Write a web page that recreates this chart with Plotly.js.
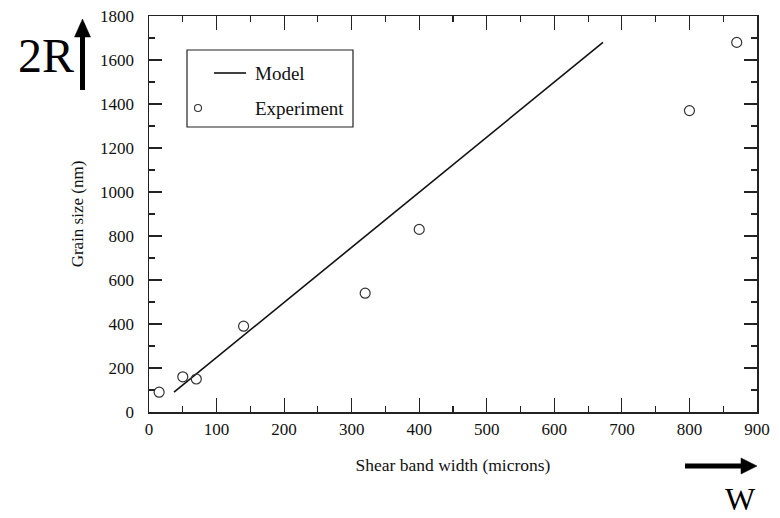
<!DOCTYPE html>
<html><head><meta charset="utf-8">
<script src="https://cdn.plot.ly/plotly-3.0.1.min.js"></script>
<style>html,body{margin:0;padding:0;background:#fff}</style>
</head><body><div id="chart" style="width:780px;height:518px"></div>
<script>
// ---- data ----
const expX = [15, 50, 70, 140, 320, 400, 800, 870];
const expY = [90, 160, 150, 390, 540, 830, 1370, 1680];
const modelX = [37, 672];
const modelY = [90, 1680];
const xTickVals = [0, 100, 200, 300, 400, 500, 600, 700, 800, 900];
const yTickVals = [0, 200, 400, 600, 800, 1000, 1200, 1400, 1600, 1800];
const seriesNames = ['Model', 'Experiment'];
const xTitle = 'Shear band width (microns)';
const yTitle = 'Grain size (nm)';
const sideLabels = ['2R', 'W'];

// ---- layout helpers (pixel -> paper) ----
const L = 149, R = 757, T = 16, B = 412;
const px = x => (x - L) / (R - L);
const py = y => (B - y) / (B - T);
const FONT = 'Liberation Serif, Times New Roman, serif';
const INK = '#222';

const traces = [
  {x: modelX, y: modelY, mode: 'lines', name: seriesNames[0],
   line: {color: '#111', width: 1.6}, showlegend: false, hoverinfo: 'skip'},
  {x: expX, y: expY, mode: 'markers', name: seriesNames[1],
   marker: {symbol: 'circle-open', size: 10, color: '#333', line: {width: 1.2, color: '#333'}},
   showlegend: false}
];

const axisCommon = {
  showgrid: false, zeroline: false, showline: true, linecolor: INK, linewidth: 1.5,
  mirror: 'ticks', ticks: 'inside', tickcolor: INK, tickwidth: 1.2,
  tickfont: {family: FONT, size: 17, color: '#111'}
};

const layout = {
  width: 780, height: 518,
  margin: {l: L, r: 780 - R, t: T, b: 518 - B},
  paper_bgcolor: '#fff', plot_bgcolor: '#fff',
  showlegend: false,
  xaxis: Object.assign({}, axisCommon, {
    range: [0, 900], tickvals: xTickVals, ticklen: 14, ticklabelstandoff: 1,
    minor: {dtick: 50, ticklen: 6, ticks: 'inside', tickcolor: INK, tickwidth: 1.2},
    title: {text: xTitle, font: {family: FONT, size: 17.5, color: '#111'}, standoff: 21}
  }),
  yaxis: Object.assign({}, axisCommon, {
    range: [0, 1800], tickvals: yTickVals, ticklen: 13, ticklabelstandoff: 10,
    minor: {dtick: 100, ticklen: 6, ticks: 'inside', tickcolor: INK, tickwidth: 1.2},
    title: {text: yTitle, font: {family: FONT, size: 17, color: '#111'}, standoff: 12}
  }),
  shapes: [
    // legend box
    {type: 'rect', xref: 'paper', yref: 'paper', x0: px(187), x1: px(353), y0: py(127), y1: py(50),
     line: {color: INK, width: 1.2}, fillcolor: 'rgba(0,0,0,0)'},
    // legend line sample
    {type: 'line', xref: 'paper', yref: 'paper', x0: px(214), x1: px(246), y0: py(73), y1: py(73),
     line: {color: '#111', width: 1.6}},
    // legend marker sample
    {type: 'circle', xref: 'paper', yref: 'paper', x0: px(194.5), x1: px(201.5), y0: py(111.5), y1: py(104.5),
     line: {color: '#333', width: 1.1}},
    // vertical arrow (2R)
    {type: 'line', xref: 'paper', yref: 'paper', x0: px(82.5), x1: px(82.5), y0: py(90), y1: py(35),
     line: {color: '#000', width: 5}},
    {type: 'path', xref: 'paper', yref: 'paper',
     path: `M ${px(74.5)} ${py(37)} L ${px(90.5)} ${py(37)} L ${px(82.5)} ${py(19)} Z`,
     fillcolor: '#000', line: {color: '#000', width: 0.5}},
    // horizontal arrow (W)
    {type: 'line', xref: 'paper', yref: 'paper', x0: px(685), x1: px(743), y0: py(466), y1: py(466),
     line: {color: '#000', width: 5}},
    {type: 'path', xref: 'paper', yref: 'paper',
     path: `M ${px(741)} ${py(458)} L ${px(741)} ${py(474)} L ${px(757)} ${py(466)} Z`,
     fillcolor: '#000', line: {color: '#000', width: 0.5}}
  ],
  annotations: [
    {xref: 'paper', yref: 'paper', x: px(253), y: py(73), text: seriesNames[0], showarrow: false,
     xanchor: 'left', yanchor: 'middle', font: {family: FONT, size: 19, color: '#111'}},
    {xref: 'paper', yref: 'paper', x: px(253), y: py(108), text: seriesNames[1], showarrow: false,
     xanchor: 'left', yanchor: 'middle', font: {family: FONT, size: 19, color: '#111'}},
    {xref: 'paper', yref: 'paper', x: px(46), y: py(56), text: sideLabels[0], showarrow: false,
     xanchor: 'center', yanchor: 'middle', font: {family: FONT, size: 48, color: '#000'}},
    {xref: 'paper', yref: 'paper', x: px(740), y: py(499), text: sideLabels[1], showarrow: false,
     xanchor: 'center', yanchor: 'middle', font: {family: FONT, size: 32, color: '#000'}}
  ]
};

Plotly.newPlot('chart', traces, layout, {displayModeBar: false, staticPlot: true});
</script></body></html>
